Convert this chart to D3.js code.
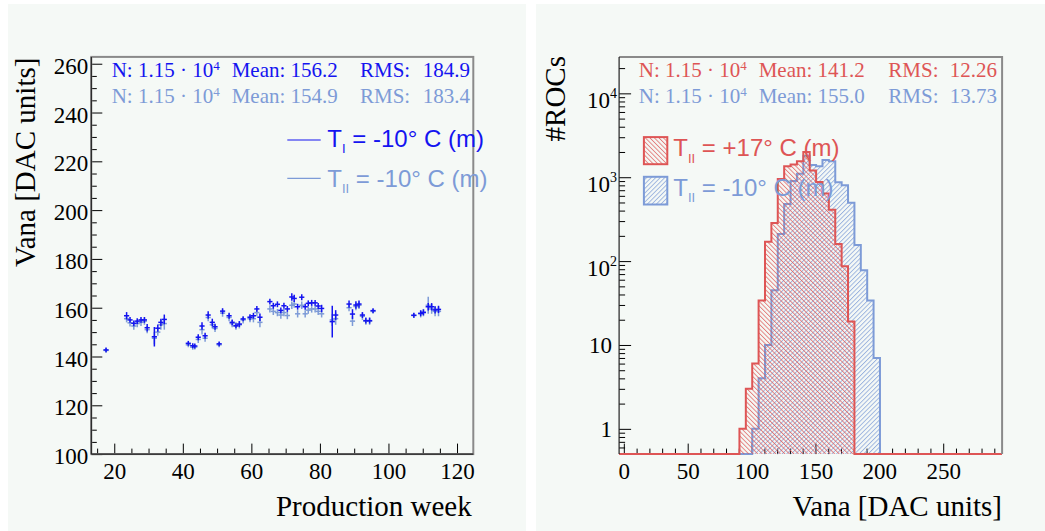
<!DOCTYPE html>
<html><head><meta charset="utf-8">
<script src="https://cdn.jsdelivr.net/npm/d3@7"></script>
<style>body{margin:0;background:#fff}svg{display:block}</style>
</head><body><svg id="c" width="1045" height="531"></svg>
<script>
// ---------------- data ----------------
const weeks = [17.6,23.6,24.6,25.7,26.7,27.8,28.8,29.6,31.7,32.7,33.6,34.6,
  41.6,42.9,43.5,44.5,45.6,46.5,47.4,48.6,49.4,50.6,51.6,53.5,54.4,55.5,56.5,57.6,59.6,60.6,61.6,62.5,
  65.4,66.4,67.6,68.6,69.5,70.5,71.8,72.5,73.5,74.7,75.7,76.6,77.6,78.6,79.5,80.5,
  83.6,84.6,88.5,89.5,90.5,91.4,92.4,93.4,94.5,95.5,
  107.4,109.4,110.2,111.6,112.6,113.6,114.6];
const vanaT1 = [142.7,156.7,155.0,153.6,154.5,155.0,155.0,151.8,148.1,151.6,154.0,155.2,
  145.4,144.4,144.3,147.9,152.5,148.5,157.0,154.0,152.2,145.2,158.6,156.7,154.0,152.6,153.3,155.4,156.1,156.7,159.5,156.1,
  162.5,160.8,161.4,158.9,160.8,159.5,164.4,163.8,160.4,164.3,160.4,161.8,162.0,162.0,160.7,159.7,
  154.3,157.0,161.5,157.4,161.1,161.5,157.0,154.7,154.7,158.8,
  156.9,157.7,158.1,160.4,160.4,159.1,159.3];
const errT1 = [1.0,1.5,1.2,1.2,1.2,1.2,1.2,1.5,4.0,1.5,1.5,2.0,
  1.0,1.0,1.0,1.2,1.5,1.2,1.5,1.5,1.2,1.0,1.2,1.2,1.2,1.0,1.2,1.0,1.2,1.2,1.2,1.5,
  1.2,1.2,1.2,1.2,1.2,1.2,1.5,1.5,1.2,1.2,1.2,1.2,1.2,1.2,1.2,1.5,
  6.5,2.0,1.5,2.0,1.5,1.5,1.2,1.2,1.2,1.0,
  1.0,1.2,1.2,1.5,1.5,1.5,1.5];
const vanaT2 = [142.5,155.5,153.8,152.5,153.5,154.0,154.5,151.0,147.5,150.0,153.0,153.5,
  144.8,143.8,143.9,147.0,151.0,147.5,156.0,153.0,151.5,144.8,157.8,156.0,153.5,152.5,153.0,155.0,155.5,155.5,158.0,154.0,
  159.5,158.5,158.0,157.0,158.0,156.8,161.0,161.5,157.5,161.0,157.5,159.0,159.5,159.5,158.5,157.5,
  155.0,155.5,160.0,154.5,160.5,161.0,156.5,154.5,154.5,158.5,
  156.8,157.5,158.0,161.0,159.5,158.5,158.5];
const errT2 = [1.0,1.5,1.5,1.5,1.5,1.5,1.5,1.5,2.5,1.5,2.0,2.5,
  1.0,1.0,1.0,1.5,2.0,1.5,1.5,1.5,1.5,1.0,1.5,1.5,1.5,1.5,1.5,1.5,1.5,1.5,1.5,2.0,
  1.5,1.5,1.5,1.5,1.5,1.5,1.5,1.5,1.5,1.5,1.5,1.5,1.5,1.5,1.5,1.5,
  2.5,2.5,1.5,2.0,1.5,1.5,1.5,1.5,1.5,1.0,
  1.0,1.5,1.5,3.5,2.0,2.0,2.0];

const redBinLow = [90.5,95.5,100.5,105.5,110.5,115.5,120.5,125.5,130.5,135.5,140.5,145.5,150.5,155.5,160.5,165.5,170.5,175.5];
const redCounts = [1,3,6,34,170,285,950,1350,1420,1550,2000,1200,880,640,410,160,87,19];
const blueBinLow = [100.5,105.5,110.5,115.5,120.5,125.5,130.5,135.5,140.5,145.5,150.5,155.5,160.5,165.5,170.5,175.5,180.5,185.5,190.5,195.5];
const blueCounts = [1,4,10,45,210,480,900,1100,1800,1400,1350,1600,1550,870,800,497,156,78,34,7];
const binWidth = 5;

const leftYTicks = [100,120,140,160,180,200,220,240,260];
const leftXTicks = [20,40,60,80,100,120];
const rightXTicks = [0,50,100,150,200,250];
const rightYTicks = [1,10,100,1000,10000];

// ---------------- style ----------------
const BG = '#f5f9f6';
const DARK = '#1414f0', LIGHT = '#7d9bd7', RED = '#de5555';
const SERIF = "'Liberation Serif','Times New Roman',serif";
const SANS = "'Liberation Sans',Arial,sans-serif";

const svg = d3.select('#c');
svg.append('rect').attr('width',1045).attr('height',531).attr('fill','#fff');
svg.append('rect').attr('x',8).attr('y',4).attr('width',518).attr('height',527).attr('fill',BG);
svg.append('rect').attr('x',536).attr('y',4).attr('width',509).attr('height',527).attr('fill',BG);

const defs = svg.append('defs');
function hatch(id,color,angle){
  const p = defs.append('pattern').attr('id',id).attr('patternUnits','userSpaceOnUse')
    .attr('width',3.2).attr('height',3.2).attr('patternTransform',`rotate(${angle})`);
  p.append('line').attr('x1',0.5).attr('y1',0).attr('x2',0.5).attr('y2',3.2)
    .attr('stroke',color).attr('stroke-width',0.7);
}
hatch('hRed',RED,-45);
hatch('hBlue',LIGHT,45);

// ================= LEFT PANEL =================
const L = {x0:91.3,x1:473.3,y0:56.9,y1:454.1};
const xL = d3.scaleLinear().domain([13.3,124.75]).range([L.x0,L.x1]);
const yL = d3.scaleLinear().domain([100,262.8]).range([L.y1,L.y0]);

function styleAxis(g,size){
  g.select('.domain').remove();
  g.selectAll('line').attr('stroke','#000').attr('stroke-width',1);
  g.selectAll('text').attr('font-family',SERIF).attr('font-size',size).attr('fill','#000');
}
const lyMinor = d3.range(100,262.8,5).filter(v=>v%20!==0);
svg.append('g').attr('transform',`translate(${L.x0},0)`)
  .call(d3.axisLeft(yL).tickValues(lyMinor).tickSize(-5.5).tickFormat(''))
  .call(g=>styleAxis(g,23));
svg.append('g').attr('transform',`translate(${L.x0},0)`)
  .call(d3.axisLeft(yL).tickValues(leftYTicks).tickSize(-11).tickPadding(3).tickFormat(d3.format('d')))
  .call(g=>{styleAxis(g,23); g.selectAll('text').attr('dy','0.42em');});
const lxMinor = d3.range(15,125,5).filter(v=>v%20!==0);
svg.append('g').attr('transform',`translate(0,${L.y1})`)
  .call(d3.axisBottom(xL).tickValues(lxMinor).tickSize(-5.5).tickFormat(''))
  .call(g=>styleAxis(g,23));
svg.append('g').attr('transform',`translate(0,${L.y1})`)
  .call(d3.axisBottom(xL).tickValues(leftXTicks).tickSize(-10.5).tickPadding(9).tickFormat(d3.format('d')))
  .call(g=>styleAxis(g,23));

// frame
svg.append('rect').attr('x',L.x0).attr('y',L.y0).attr('width',L.x1-L.x0).attr('height',L.y1-L.y0)
  .attr('fill','none').attr('stroke','#8a8a8a').attr('stroke-width',2);
svg.append('line').attr('x1',L.x0).attr('x2',L.x0).attr('y1',L.y0).attr('y2',L.y1).attr('stroke','#222').attr('stroke-width',1.2);
svg.append('line').attr('x1',L.x0).attr('x2',L.x1).attr('y1',L.y1).attr('y2',L.y1).attr('stroke','#222').attr('stroke-width',1.2);

function drawProfile(vals,errs,color,w){
  const g = svg.append('g').attr('stroke',color).attr('stroke-width',w);
  weeks.forEach((wk,i)=>{
    const cx = xL(wk), cy = yL(vals[i]);
    g.append('line').attr('x1',cx-2.6).attr('x2',cx+2.6).attr('y1',cy).attr('y2',cy);
    g.append('line').attr('x1',cx).attr('x2',cx).attr('y1',yL(vals[i]-errs[i])).attr('y2',yL(vals[i]+errs[i]));
  });
}
drawProfile(vanaT2,errT2,LIGHT,1.5);
drawProfile(vanaT1,errT1,DARK,1.5);

// stats box text
function statLine(x,y,color,mean,rmsX,rms,meanX,rmsEnd){
  const t = svg.append('text').attr('x',x).attr('y',y).attr('fill',color)
    .attr('font-family',SERIF).attr('font-size',21);
  t.append('tspan').text('N: 1.15 \u00b7 10');
  t.append('tspan').attr('font-size',13).attr('dy',-7).text('4');
  svg.append('text').attr('x',meanX).attr('y',y).attr('fill',color).attr('font-family',SERIF).attr('font-size',21).text('Mean: '+mean);
  svg.append('text').attr('x',rmsX).attr('y',y).attr('fill',color).attr('font-family',SERIF).attr('font-size',21).text('RMS:');
  svg.append('text').attr('x',rmsEnd).attr('y',y).attr('text-anchor','end').attr('fill',color).attr('font-family',SERIF).attr('font-size',21).text(rms);
}
statLine(111.7,77.3,DARK,'156.2',360,'184.9',231.7,470);
statLine(111.7,103.3,LIGHT,'154.9',360,'183.4',231.7,470);

// legend left
function legText(x,y,color,sub,rest){
  const t = svg.append('text').attr('x',x).attr('y',y).attr('fill',color)
    .attr('font-family',SANS).attr('font-size',24);
  t.append('tspan').text('T');
  t.append('tspan').attr('font-size',13).attr('dy',6.5).text(sub);
  t.append('tspan').attr('dy',-6.5).text(rest);
}
svg.append('line').attr('x1',287.3).attr('x2',320.7).attr('y1',140).attr('y2',140).attr('stroke',DARK).attr('stroke-width',1.2);
legText(327.3,146.7,DARK,'I',' = -10\u00b0 C (m)');
svg.append('line').attr('x1',287.3).attr('x2',320.7).attr('y1',178.3).attr('y2',178.3).attr('stroke',LIGHT).attr('stroke-width',1.2);
legText(327.3,186.7,LIGHT,'II',' = -10\u00b0 C (m)');

// axis titles
svg.append('text').attr('transform','translate(35,57.6) rotate(-90)').attr('text-anchor','end')
  .attr('font-family',SERIF).attr('font-size',29).attr('fill','#000').text('Vana [DAC units]');
svg.append('text').attr('x',471.7).attr('y',516).attr('text-anchor','end')
  .attr('font-family',SERIF).attr('font-size',29).attr('fill','#000').text('Production week');

// ================= RIGHT PANEL =================
const R = {x0:619.1,x1:1002.1,y0:56.9,y1:454.1};
const xR = d3.scaleLinear().domain([-3.7,296.1]).range([R.x0,R.x1]);
const yR = d3.scaleLog().domain([0.5,27200]).range([R.y1,R.y0]);

const rxMinor = d3.range(10,296,10).filter(v=>v%50!==0);
svg.append('g').attr('transform',`translate(0,${R.y1})`)
  .call(d3.axisBottom(xR).tickValues(rxMinor).tickSize(-5.5).tickFormat(''))
  .call(g=>styleAxis(g,23));
svg.append('g').attr('transform',`translate(0,${R.y1})`)
  .call(d3.axisBottom(xR).tickValues(rightXTicks).tickSize(-10.5).tickPadding(9).tickFormat(d3.format('d')))
  .call(g=>styleAxis(g,23));
const ryMinor = [];
[0.1,1,10,100,1000,10000].forEach(d=>{for(let k=2;k<=9;k++){const v=d*k; if(v>0.5&&v<27200) ryMinor.push(v);}});
svg.append('g').attr('transform',`translate(${R.x0},0)`)
  .call(d3.axisLeft(yR).tickValues(ryMinor).tickSize(-6).tickFormat(''))
  .call(g=>styleAxis(g,23));
svg.append('g').attr('transform',`translate(${R.x0},0)`)
  .call(d3.axisLeft(yR).tickValues(rightYTicks).tickSize(-12).tickFormat(''))
  .call(g=>styleAxis(g,23));
// log labels
rightYTicks.forEach(v=>{
  const y = yR(v);
  if(v===1){
    svg.append('text').attr('x',612).attr('y',y).attr('dy','0.36em').attr('text-anchor','end')
      .attr('font-family',SERIF).attr('font-size',23).text('1');
  } else if(v===10){
    svg.append('text').attr('x',612).attr('y',y).attr('dy','0.36em').attr('text-anchor','end')
      .attr('font-family',SERIF).attr('font-size',23).text('10');
  } else {
    const t = svg.append('text').attr('x',587).attr('y',y+14.5)
      .attr('font-family',SERIF).attr('font-size',23);
    t.append('tspan').text('10');
    t.append('tspan').attr('font-size',14).attr('dy',-10).text(String(Math.round(Math.log10(v))));
  }
});

// histograms
function histPoints(lows,counts){
  const pts = [[R.x0, R.y1]];
  lows.forEach((lo,i)=>{
    const y = counts[i]>0 ? yR(counts[i]) : R.y1;
    pts.push([xR(lo), i===0 ? R.y1 : pts[pts.length-1][1]]);
    pts.push([xR(lo), y]);
    pts.push([xR(lo+binWidth), y]);
  });
  pts.push([pts[pts.length-1][0], R.y1]);
  pts.push([R.x1, R.y1]);
  return pts;
}
defs.append('clipPath').attr('id','clipR').append('rect')
  .attr('x',R.x0).attr('y',R.y0).attr('width',R.x1-R.x0).attr('height',R.y1-R.y0+2);
const hg = svg.append('g').attr('clip-path','url(#clipR)');
const line = d3.line();
const bluePts = histPoints(blueBinLow,blueCounts);
const redPts = histPoints(redBinLow,redCounts);
hg.append('path').attr('d',line(bluePts)+'Z').attr('fill','url(#hBlue)').attr('stroke','none');
hg.append('path').attr('d',line(bluePts)).attr('fill','none').attr('stroke',LIGHT).attr('stroke-width',2);
hg.append('path').attr('d',line(redPts)+'Z').attr('fill','url(#hRed)').attr('stroke','none');
hg.append('path').attr('d',line(redPts)).attr('fill','none').attr('stroke',RED).attr('stroke-width',2);

// frame
svg.append('path').attr('d',`M${R.x0},${R.y0}H${R.x1}V${R.y1}`).attr('fill','none').attr('stroke','#8a8a8a').attr('stroke-width',2);
svg.append('line').attr('x1',R.x0).attr('x2',R.x0).attr('y1',R.y0).attr('y2',R.y1).attr('stroke','#222').attr('stroke-width',1.2);

// stats right
statLine(638.8,77.2,RED,'141.2',888.3,'12.26',758.7,997);
statLine(638.8,103.3,LIGHT,'155.0',888.3,'13.73',758.7,997);

// legend right
svg.append('rect').attr('x',643.9).attr('y',137.1).attr('width',23.4).attr('height',27.1)
  .attr('fill','url(#hRed)').attr('stroke',RED).attr('stroke-width',2);
legText(673.3,156.4,RED,'II',' = +17\u00b0 C (m)');
svg.append('rect').attr('x',643.9).attr('y',176.8).attr('width',23.4).attr('height',27.7)
  .attr('fill','url(#hBlue)').attr('stroke',LIGHT).attr('stroke-width',2);
legText(673.3,195.7,LIGHT,'II',' = -10\u00b0 C (m)');

// axis titles right
svg.append('text').attr('transform','translate(565,56) rotate(-90)').attr('text-anchor','end')
  .attr('font-family',SERIF).attr('font-size',29).attr('fill','#000').text('#ROCs');
svg.append('text').attr('x',1002).attr('y',516).attr('text-anchor','end')
  .attr('font-family',SERIF).attr('font-size',29).attr('fill','#000').text('Vana [DAC units]');
</script></body></html>
